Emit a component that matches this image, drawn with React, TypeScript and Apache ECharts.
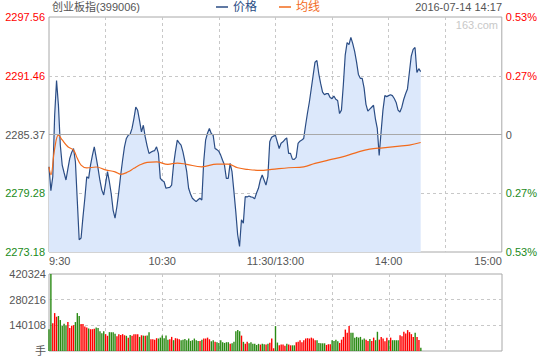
import React, { useEffect, useRef } from 'react';
import * as echarts from 'echarts';

const BASE_PRICE = 2285.37;
const PRICE_STEP = 6.095;
const leftTickLabels = ['2273.18', '2279.28', '2285.37', '2291.46', '2297.56'];
const rightTickLabels = ['0.53%', '0.27%', '0', '0.27%', '0.53%'];
const tickColors = ['#1a8a1a', '#1a8a1a', '#555555', '#ff0000', '#ff0000'];
const timeTickMinutes = [0, 60, 120, 180, 240];
const timeTickLabels = ['9:30', '10:30', '11:30/13:00', '14:00', '15:00'];
const volumeTickLabels = ['手', '140108', '280216', '420324'];
const VOLUME_MAX = 420324;
const VOLUME_STEP = 140108;

const prices = [
  2282.02, 2279.54, 2280.99, 2287.36, 2290.98, 2288.40, 2284.26, 2282.20, 2281.40, 2280.65,
  2281.80, 2282.89, 2283.50, 2283.92, 2282.54, 2278.50, 2274.45, 2274.63, 2276.80, 2278.76,
  2280.99, 2280.82, 2282.20, 2283.20, 2284.09, 2283.00, 2281.86, 2280.60, 2279.60, 2279.10,
  2280.30, 2281.51, 2280.47, 2279.20, 2277.50, 2276.69, 2277.90, 2279.44, 2281.17, 2282.70,
  2284.09, 2284.96, 2285.30, 2285.40, 2286.00, 2287.02, 2288.22, 2287.88, 2286.80, 2285.64,
  2286.33, 2285.12, 2284.20, 2283.41, 2283.54, 2283.64, 2283.70, 2284.09, 2283.41, 2280.82,
  2280.60, 2280.47, 2279.79, 2279.85, 2279.89, 2280.13, 2282.20, 2283.60, 2284.78, 2284.50,
  2284.26, 2283.57, 2282.60, 2281.51, 2279.79, 2279.20, 2278.76, 2278.58, 2278.41, 2278.60,
  2278.76, 2278.58, 2282.54, 2284.78, 2285.50, 2285.99, 2285.47, 2285.30, 2283.92, 2283.80,
  2283.64, 2283.23, 2282.70, 2282.20, 2280.82, 2280.82, 2282.37, 2281.51, 2279.50, 2277.37,
  2274.97, 2273.76, 2276.52, 2276.18, 2278.92, 2278.89, 2278.99, 2278.90, 2278.86, 2278.69,
  2279.30, 2279.79, 2280.65, 2281.17, 2280.65, 2280.13, 2280.99, 2284.61, 2285.09, 2285.20,
  2285.30, 2284.61, 2283.92, 2284.47, 2284.61, 2284.85, 2285.02, 2283.41, 2283.41, 2282.82,
  2282.79, 2282.99, 2284.44, 2284.68, 2284.80, 2284.96, 2286.33, 2287.60, 2288.74, 2290.12,
  2291.50, 2292.87, 2293.05, 2291.67, 2290.64, 2289.77, 2289.50, 2289.61, 2289.61, 2289.20,
  2289.09, 2289.36, 2289.02, 2288.90, 2287.54, 2287.90, 2290.50, 2293.60, 2294.90, 2294.70,
  2295.45, 2294.80, 2294.00, 2292.90, 2291.60, 2291.20, 2291.20, 2290.20, 2288.50, 2287.80,
  2288.00, 2288.20, 2288.40, 2287.00, 2286.00, 2283.20, 2285.60, 2287.90, 2289.40, 2289.30,
  2289.40, 2289.50, 2289.40, 2289.10, 2288.70, 2287.90, 2287.70, 2288.20, 2289.00, 2289.60,
  2290.10, 2291.80, 2293.50, 2294.20, 2294.40, 2291.80, 2292.20, 2291.90,
];

const avgMinutes = [0, 1, 3, 5, 7, 10, 13, 15, 17, 20, 25, 30, 35, 38, 42, 45, 48, 52, 57, 63, 68, 73, 81, 89, 95, 100, 105, 112, 118, 127, 135, 141, 148, 157, 164, 170, 177, 187, 191, 197];
const avgPrices = [
  2282.0, 2281.2, 2283.9, 2285.3, 2284.8, 2284.1, 2283.75, 2282.9, 2282.2, 2281.9,
  2282.0, 2281.7, 2281.5, 2281.24, 2281.5, 2281.86, 2282.2, 2282.48, 2282.54, 2282.27,
  2282.41, 2282.27, 2282.02, 2282.3, 2282.3, 2281.92, 2281.75, 2281.65, 2281.75, 2281.92,
  2282.02, 2282.37, 2282.71, 2283.13, 2283.57, 2283.85, 2283.99, 2284.19, 2284.26, 2284.54,
];

const volumes = [
  119000, 420000, 152000, 207000, 187000, 191000, 169000, 136000, 149000, 141000,
  158000, 125000, 138000, 141000, 158000, 207000, 191000, 147000, 147000, 134000,
  128000, 123000, 119000, 119000, 121000, 128000, 125000, 108000, 97000, 108000,
  92000, 83000, 103000, 103000, 103000, 94000, 81000, 92000, 88000, 92000,
  86000, 83000, 73000, 88000, 83000, 92000, 92000, 92000, 77000, 86000,
  84000, 83000, 84000, 103000, 64000, 64000, 62000, 70000, 68000, 73000,
  84000, 70000, 84000, 62000, 64000, 77000, 59000, 70000, 68000, 64000,
  59000, 62000, 66000, 59000, 68000, 55000, 59000, 68000, 59000, 55000,
  55000, 61000, 68000, 68000, 73000, 64000, 53000, 59000, 51000, 48000,
  44000, 59000, 48000, 44000, 48000, 48000, 40000, 42000, 50000, 108000,
  114000, 108000, 84000, 50000, 40000, 50000, 42000, 48000, 40000, 39000,
  33000, 39000, 35000, 39000, 37000, 35000, 40000, 45000, 68000, 15000,
  136000, 46000, 31000, 35000, 35000, 29000, 40000, 35000, 31000, 31000,
  31000, 48000, 50000, 59000, 48000, 59000, 68000, 70000, 68000, 73000,
  68000, 59000, 59000, 44000, 42000, 42000, 42000, 33000, 37000, 37000,
  59000, 55000, 62000, 53000, 44000, 62000, 77000, 117000, 99000, 136000,
  99000, 99000, 73000, 77000, 73000, 77000, 62000, 68000, 62000, 55000,
  66000, 55000, 73000, 59000, 105000, 62000, 77000, 68000, 53000, 73000,
  59000, 73000, 59000, 59000, 59000, 59000, 86000, 81000, 105000, 95000,
  114000, 103000, 92000, 77000, 99000, 77000, 60000, 18000,
];
const volumeDirs = [
  'g', 'g', 'r', 'r', 'r', 'g', 'g', 'g', 'g', 'g',
  'r', 'r', 'r', 'r', 'g', 'g', 'g', 'r', 'r', 'r',
  'r', 'g', 'r', 'r', 'r', 'g', 'g', 'g', 'g', 'g',
  'r', 'r', 'g', 'g', 'g', 'g', 'r', 'r', 'r', 'r',
  'r', 'g', 'r', 'g', 'r', 'r', 'r', 'r', 'g', 'r',
  'g', 'r', 'g', 'g', 'r', 'r', 'r', 'r', 'g', 'g',
  'g', 'g', 'g', 'g', 'r', 'r', 'g', 'r', 'r', 'r',
  'g', 'g', 'g', 'g', 'g', 'g', 'g', 'g', 'g', 'g',
  'r', 'g', 'r', 'r', 'r', 'r', 'g', 'g', 'r', 'g',
  'g', 'g', 'g', 'g', 'g', 'g', 'r', 'g', 'g', 'g',
  'g', 'g', 'r', 'g', 'r', 'r', 'g', 'g', 'g', 'g',
  'g', 'g', 'r', 'g', 'g', 'r', 'g', 'r', 'r', 'r',
  'g', 'g', 'r', 'r', 'r', 'r', 'g', 'r', 'r', 'g',
  'g', 'r', 'r', 'r', 'r', 'r', 'r', 'r', 'r', 'r',
  'r', 'r', 'g', 'g', 'g', 'g', 'g', 'r', 'r', 'r',
  'g', 'g', 'g', 'g', 'r', 'r', 'r', 'r', 'r', 'r',
  'g', 'g', 'g', 'g', 'g', 'g', 'g', 'g', 'r', 'r',
  'g', 'r', 'r', 'g', 'g', 'r', 'r', 'r', 'r', 'r',
  'g', 'r', 'g', 'g', 'g', 'g', 'r', 'r', 'r', 'r',
  'r', 'r', 'r', 'r', 'g', 'r', 'r', 'g',
];

const FONT = "'Liberation Sans', 'Noto Sans CJK SC', sans-serif";
const NAVY = '#2b4d85';
const ORANGE = '#f26b1d';
const RED = '#ff0000';
const GREEN = '#2a8a14';
const GRID_LINE = '#c8c8c8';
const BORDER = '#a8a8a8';

const toRel = (p: number) => (p - BASE_PRICE) / PRICE_STEP;

export default function App() {
  const ref = useRef<HTMLDivElement>(null);

  useEffect(() => {
    if (!ref.current) return;
    const chart = echarts.init(ref.current, undefined, { renderer: 'svg' });

    const timeLabel = (v: number) => {
      const k = timeTickMinutes.indexOf(Math.round(v));
      return k >= 0 ? timeTickLabels[k] : '';
    };

    const xCommon = {
      type: 'value',
      min: 0,
      max: 240,
      interval: 30,
      axisLine: { show: false },
      axisTick: { show: false },
      splitLine: {
        show: true,
        showMinLine: false,
        showMaxLine: false,
        lineStyle: { color: GRID_LINE, type: [3, 3], width: 1 },
      },
    };

    const option: any = {
      animation: false,
      textStyle: { fontFamily: FONT, fontSize: 11 },
      legend: {
        top: 1,
        left: 216,
        padding: 0,
        itemGap: 22,
        itemWidth: 12,
        itemHeight: 1.5,
        icon: 'rect',
        textStyle: { fontFamily: FONT, fontSize: 12 },
        data: [
          { name: '价格', textStyle: { color: NAVY } },
          { name: '均线', textStyle: { color: ORANGE } },
        ],
      },
      graphic: [
        {
          type: 'text',
          left: 52,
          top: 1,
          style: { text: '创业板指(399006)', fill: '#555', font: `11px ${FONT}` },
        },
        {
          type: 'text',
          right: 38,
          top: 1,
          style: { text: '2016-07-14 14:17', fill: '#555', font: `11px ${FONT}` },
        },
        {
          type: 'text',
          right: 42,
          top: 19,
          z: 10,
          style: { text: '163.com', fill: '#c8c8c8', font: `11px ${FONT}` },
        },
      ],
      grid: [
        { left: 49, top: 17, width: 453, height: 235, show: true, borderColor: BORDER, borderWidth: 1, backgroundColor: 'transparent' },
        { left: 49, top: 274, width: 453, height: 77, show: true, borderColor: BORDER, borderWidth: 1, backgroundColor: 'transparent' },
      ],
      xAxis: [
        {
          ...xCommon,
          gridIndex: 0,
          axisLabel: {
            show: true,
            margin: 3,
            color: '#555',
            fontSize: 11,
            fontFamily: FONT,
            showMinLabel: true,
            showMaxLabel: true,
            alignMinLabel: 'left',
            alignMaxLabel: 'right',
            formatter: timeLabel,
          },
        },
        { ...xCommon, gridIndex: 1, axisLabel: { show: false } },
      ],
      yAxis: [
        {
          type: 'value',
          gridIndex: 0,
          position: 'left',
          min: -2,
          max: 2,
          interval: 1,
          axisLine: { show: false },
          axisTick: { show: false },
          axisLabel: {
            margin: 4,
            fontSize: 11,
            fontFamily: FONT,
            formatter: (v: number) => leftTickLabels[Math.round(v) + 2],
            color: (v: number) => tickColors[Math.round(v) + 2],
          },
          splitLine: {
            show: true,
            showMinLine: false,
            showMaxLine: false,
            lineStyle: { color: GRID_LINE, type: [3, 3], width: 1 },
          },
        },
        {
          type: 'value',
          gridIndex: 0,
          position: 'right',
          min: -2,
          max: 2,
          interval: 1,
          axisLine: { show: false },
          axisTick: { show: false },
          splitLine: { show: false },
          axisLabel: {
            margin: 4,
            fontSize: 11,
            fontFamily: FONT,
            formatter: (v: number) => rightTickLabels[Math.round(v) + 2],
            color: (v: number) => tickColors[Math.round(v) + 2],
          },
        },
        {
          type: 'value',
          gridIndex: 1,
          position: 'left',
          min: 0,
          max: VOLUME_MAX,
          interval: VOLUME_STEP,
          axisLine: { show: false },
          axisTick: { show: false },
          axisLabel: {
            margin: 3,
            fontSize: 11,
            fontFamily: FONT,
            color: '#555',
            formatter: (v: number) => volumeTickLabels[Math.round(v / VOLUME_STEP)],
          },
          splitLine: {
            show: true,
            showMinLine: false,
            showMaxLine: false,
            lineStyle: { color: GRID_LINE, type: [3, 3], width: 1 },
          },
        },
      ],
      series: [
        {
          name: '价格',
          type: 'line',
          xAxisIndex: 0,
          yAxisIndex: 0,
          showSymbol: false,
          symbol: 'none',
          color: NAVY,
          lineStyle: { color: NAVY, width: 1.2 },
          areaStyle: { color: '#dce8fb', opacity: 1, origin: 'start' },
          data: prices.map((p, i) => [i, toRel(p)]),
          markLine: {
            silent: true,
            symbol: ['none', 'none'],
            label: { show: false },
            lineStyle: { color: BORDER, type: 'solid', width: 1 },
            data: [{ yAxis: 0 }],
          },
          z: 3,
        },
        {
          name: '均线',
          type: 'line',
          xAxisIndex: 0,
          yAxisIndex: 0,
          showSymbol: false,
          symbol: 'none',
          smooth: 0.4,
          color: ORANGE,
          lineStyle: { color: ORANGE, width: 1.2 },
          data: avgMinutes.map((m, i) => [m, toRel(avgPrices[i])]),
          z: 4,
        },
        {
          name: '成交量',
          type: 'bar',
          xAxisIndex: 1,
          yAxisIndex: 2,
          barWidth: 1.4,
          data: volumes.map((v, i) => ({
            value: [i, v],
            itemStyle: { color: volumeDirs[i] === 'r' ? RED : GREEN },
          })),
        },
      ],
    };

    chart.setOption(option);
    return () => chart.dispose();
  }, []);

  return (
    <div
      ref={ref}
      style={{ position: 'fixed', left: 0, top: 0, width: 540, height: 360, background: '#fff' }}
    />
  );
}
